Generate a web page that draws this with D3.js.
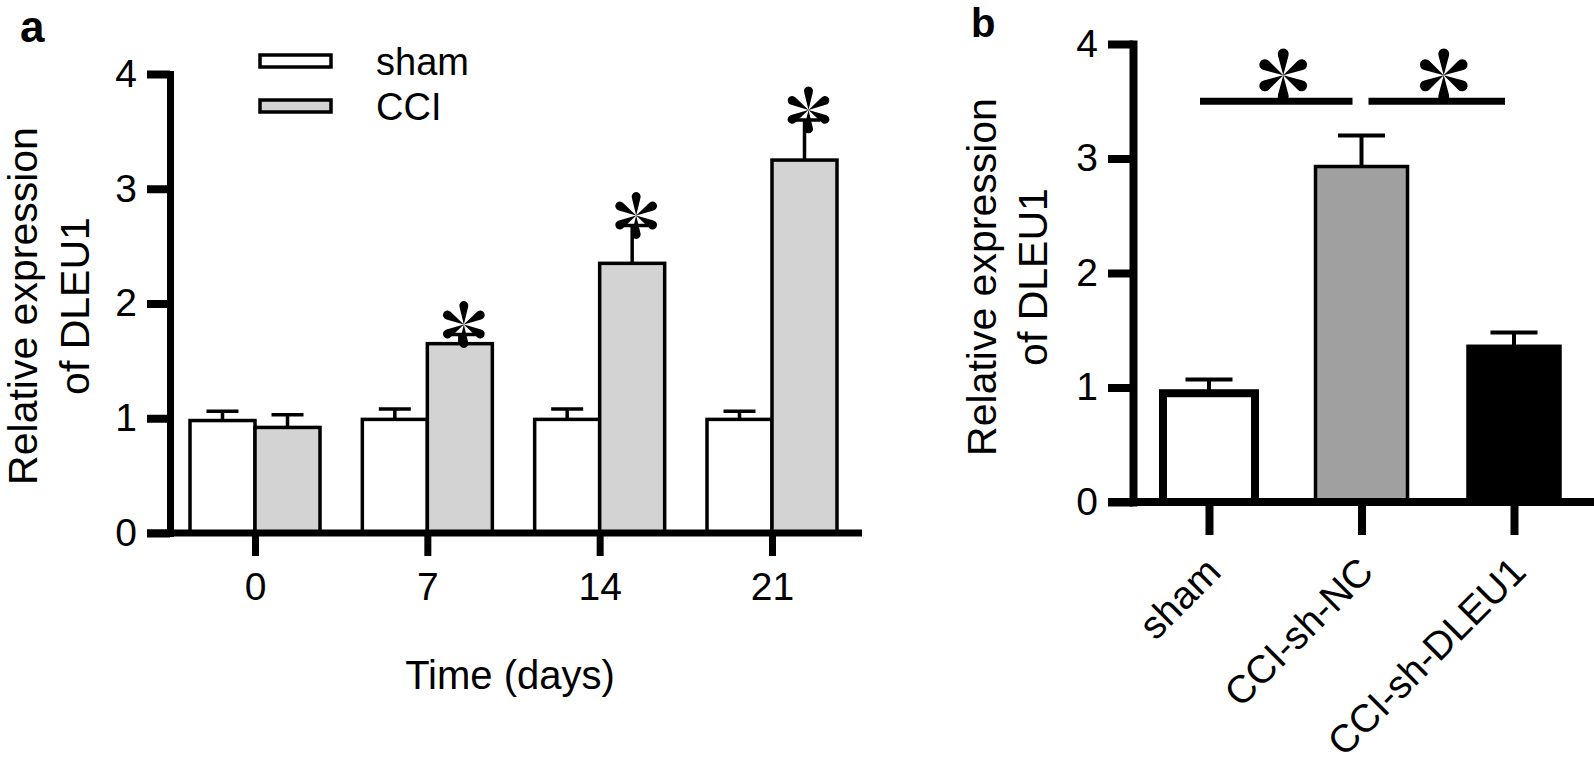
<!DOCTYPE html>
<html>
<head>
<meta charset="utf-8">
<script src="https://cdn.jsdelivr.net/npm/d3@7"></script>
<style>
  body { margin: 0; background: #fff; }
  text { font-family: "Liberation Sans", Arial, sans-serif; fill: #000; }
</style>
</head>
<body>
<div id="viz-container"></div>
<script>

// panel a: DLEU1 over time
let days = ["0", "7", "14", "21"];
let shamMeans = [0.98, 0.99, 0.99, 0.99];
let shamErr = [0.08, 0.09, 0.09, 0.07];
let cciMeans = [0.92, 1.65, 2.35, 3.25];
let cciErr = [0.11, 0.08, 0.33, 0.35];
let cciStars = [false, true, true, true];
let yTicks = [0, 1, 2, 3, 4];

// panel b: knockdown
let groups = ["sham", "CCI-sh-NC", "CCI-sh-DLEU1"];
let groupMeans = [0.95, 2.93, 1.36];
let groupErr = [0.12, 0.27, 0.12];
let comparisons = [[0, 1], [1, 2]];
let compLevel = 3.5;

let groupColors = ["#ffffff", "#a0a0a0", "#000000"];
let shamColor = "#ffffff";
let cciColor = "#d3d3d3";

let viz = d3.select("#viz-container")
              .append("svg")
                .attr("width", 1594)
                .attr("height", 773)
;

// six-petal asterisk like the prism one
function star(g, cx, cy, L, r){
  let w = r * 0.95;
  let petal = "M0,0 L" + (-w) + "," + (-(L - r)) + " A" + r + "," + r + " 0 1,1 " + w + "," + (-(L - r)) + " Z";
  let s = g.append("g").attr("transform", "translate(" + cx + "," + cy + ")");
  for (let k = 0; k < 6; k++) {
    s.append("path").attr("d", petal).attr("transform", "rotate(" + (k * 60) + ")").attr("fill", "#000");
  }
}

function errBar(g, cx, m, e, y, capW, sw){
  g.append("line").attr("x1", cx).attr("x2", cx).attr("y1", y(m)).attr("y2", y(m + e))
    .attr("stroke", "#000").attr("stroke-width", sw);
  g.append("line").attr("x1", cx - capW / 2).attr("x2", cx + capW / 2).attr("y1", y(m + e)).attr("y2", y(m + e))
    .attr("stroke", "#000").attr("stroke-width", sw);
}

// ---------- panel a ----------
let yA = d3.scaleLinear().domain([0, 4]).range([533, 74]);
let xA = d3.scalePoint().domain(days).range([255, 772]);
let barW = 65;

let pa = viz.append("g");

pa.selectAll(".sham").data(days).enter().append("rect")
    .attr("x", d => xA(d) - barW)
    .attr("y", (d, i) => yA(shamMeans[i]))
    .attr("width", barW)
    .attr("height", (d, i) => yA(0) - yA(shamMeans[i]))
    .attr("fill", shamColor)
    .attr("stroke", "#000")
    .attr("stroke-width", 3.5)
;

pa.selectAll(".cci").data(days).enter().append("rect")
    .attr("x", d => xA(d))
    .attr("y", (d, i) => yA(cciMeans[i]))
    .attr("width", barW)
    .attr("height", (d, i) => yA(0) - yA(cciMeans[i]))
    .attr("fill", cciColor)
    .attr("stroke", "#000")
    .attr("stroke-width", 3.5)
;

days.forEach((d, i) => {
  errBar(pa, xA(d) - barW / 2, shamMeans[i], shamErr[i], yA, 32, 3.5);
  errBar(pa, xA(d) + barW / 2, cciMeans[i], cciErr[i], yA, 32, 3.5);
  if (cciStars[i]) star(pa, xA(d) + barW / 2 + 4, yA(cciMeans[i] + cciErr[i]) - 10, 22, 4.5);
});

let yAxisA = pa.append("g")
    .attr("transform", "translate(170,0)")
    .call(d3.axisLeft(yA).tickValues(yTicks).tickFormat(d3.format("d")).tickSize(23).tickSizeOuter(0).tickPadding(10));
yAxisA.select(".domain").attr("stroke-width", 7).attr("stroke-linecap", "square");
yAxisA.selectAll(".tick line").attr("stroke-width", 8);
yAxisA.selectAll(".tick text").attr("font-size", 39).attr("font-family", null);

let xAxisA = pa.append("g")
    .attr("transform", "translate(0,533)")
    .call(d3.axisBottom(xA).tickSize(23).tickPadding(16));
xAxisA.select(".domain").remove();
xAxisA.selectAll(".tick line").attr("stroke-width", 7);
xAxisA.selectAll(".tick text").attr("font-size", 39).attr("font-family", null);
xAxisA.append("line").attr("x1", 147).attr("x2", 862).attr("y1", 0).attr("y2", 0)
    .attr("stroke", "#000").attr("stroke-width", 7);

pa.append("text").attr("x", 510).attr("y", 689).attr("text-anchor", "middle")
    .attr("font-size", 40).text("Time (days)");

pa.append("text").attr("transform", "translate(37,306) rotate(-90)").attr("text-anchor", "middle")
    .attr("font-size", 41).text("Relative expression");
pa.append("text").attr("transform", "translate(89,306) rotate(-90)").attr("text-anchor", "middle")
    .attr("font-size", 41).text("of DLEU1");

pa.append("text").attr("x", 20).attr("y", 42).attr("font-size", 44).attr("font-weight", "bold").text("a");

// legend
let legend = ["sham", "CCI"];
let legendFill = [shamColor, cciColor];
legend.forEach((name, i) => {
  pa.append("rect").attr("x", 260).attr("y", 55 + i * 45).attr("width", 71).attr("height", 12)
    .attr("fill", legendFill[i]).attr("stroke", "#000").attr("stroke-width", 3.5);
  pa.append("text").attr("x", 376).attr("y", 75 + i * 45).attr("font-size", 38).text(name);
});

// ---------- panel b ----------
let yB = d3.scaleLinear().domain([0, 4]).range([502, 44]);
let xB = d3.scalePoint().domain(groups).range([1209, 1514]);
let barWB = 92;

let pb = viz.append("g");

pb.selectAll("rect").data(groups).enter().append("rect")
    .attr("x", d => xB(d) - barWB / 2)
    .attr("y", (d, i) => yB(groupMeans[i]))
    .attr("width", barWB)
    .attr("height", (d, i) => yB(0) - yB(groupMeans[i]))
    .attr("fill", (d, i) => groupColors[i])
    .attr("stroke", "#000")
    .attr("stroke-width", (d, i) => i == 0 ? 8 : 3.5)
;

groups.forEach((d, i) => {
  errBar(pb, xB(d), groupMeans[i], groupErr[i], yB, 47, 4);
});

comparisons.forEach(c => {
  let x1 = xB(groups[c[0]]) - 9;
  let x2 = xB(groups[c[1]]) - 9;
  if (c[0] > 0) x1 = x1 + 16;
  pb.append("line").attr("x1", x1).attr("x2", x2).attr("y1", yB(compLevel)).attr("y2", yB(compLevel))
    .attr("stroke", "#000").attr("stroke-width", 7);
  star(pb, (x1 + x2) / 2 + 7, yB(compLevel) - 26, 25, 5.5);
});

let yAxisB = pb.append("g")
    .attr("transform", "translate(1133,0)")
    .call(d3.axisLeft(yB).tickValues(yTicks).tickFormat(d3.format("d")).tickSize(25).tickSizeOuter(0).tickPadding(10));
yAxisB.select(".domain").attr("stroke-width", 8).attr("stroke-linecap", "square");
yAxisB.selectAll(".tick line").attr("stroke-width", 8);
yAxisB.selectAll(".tick text").attr("font-size", 39).attr("font-family", null);

let xAxisB = pb.append("g")
    .attr("transform", "translate(0,502)")
    .call(d3.axisBottom(xB).tickSize(33).tickFormat(""));
xAxisB.select(".domain").remove();
xAxisB.selectAll(".tick line").attr("stroke-width", 8);
xAxisB.append("line").attr("x1", 1108).attr("x2", 1594).attr("y1", 0).attr("y2", 0)
    .attr("stroke", "#000").attr("stroke-width", 8);

pb.selectAll(".glabel").data(groups).enter().append("text")
    .attr("transform", d => "translate(" + (xB(d) + 14) + ",574) rotate(-45)")
    .attr("text-anchor", "end")
    .attr("font-size", 39)
    .text(d => d)
;

pb.append("text").attr("transform", "translate(996,277) rotate(-90)").attr("text-anchor", "middle")
    .attr("font-size", 41).text("Relative expression");
pb.append("text").attr("transform", "translate(1047,277) rotate(-90)").attr("text-anchor", "middle")
    .attr("font-size", 41).text("of DLEU1");

pb.append("text").attr("x", 971).attr("y", 37).attr("font-size", 40).attr("font-weight", "bold").text("b");

</script>
</body>
</html>
